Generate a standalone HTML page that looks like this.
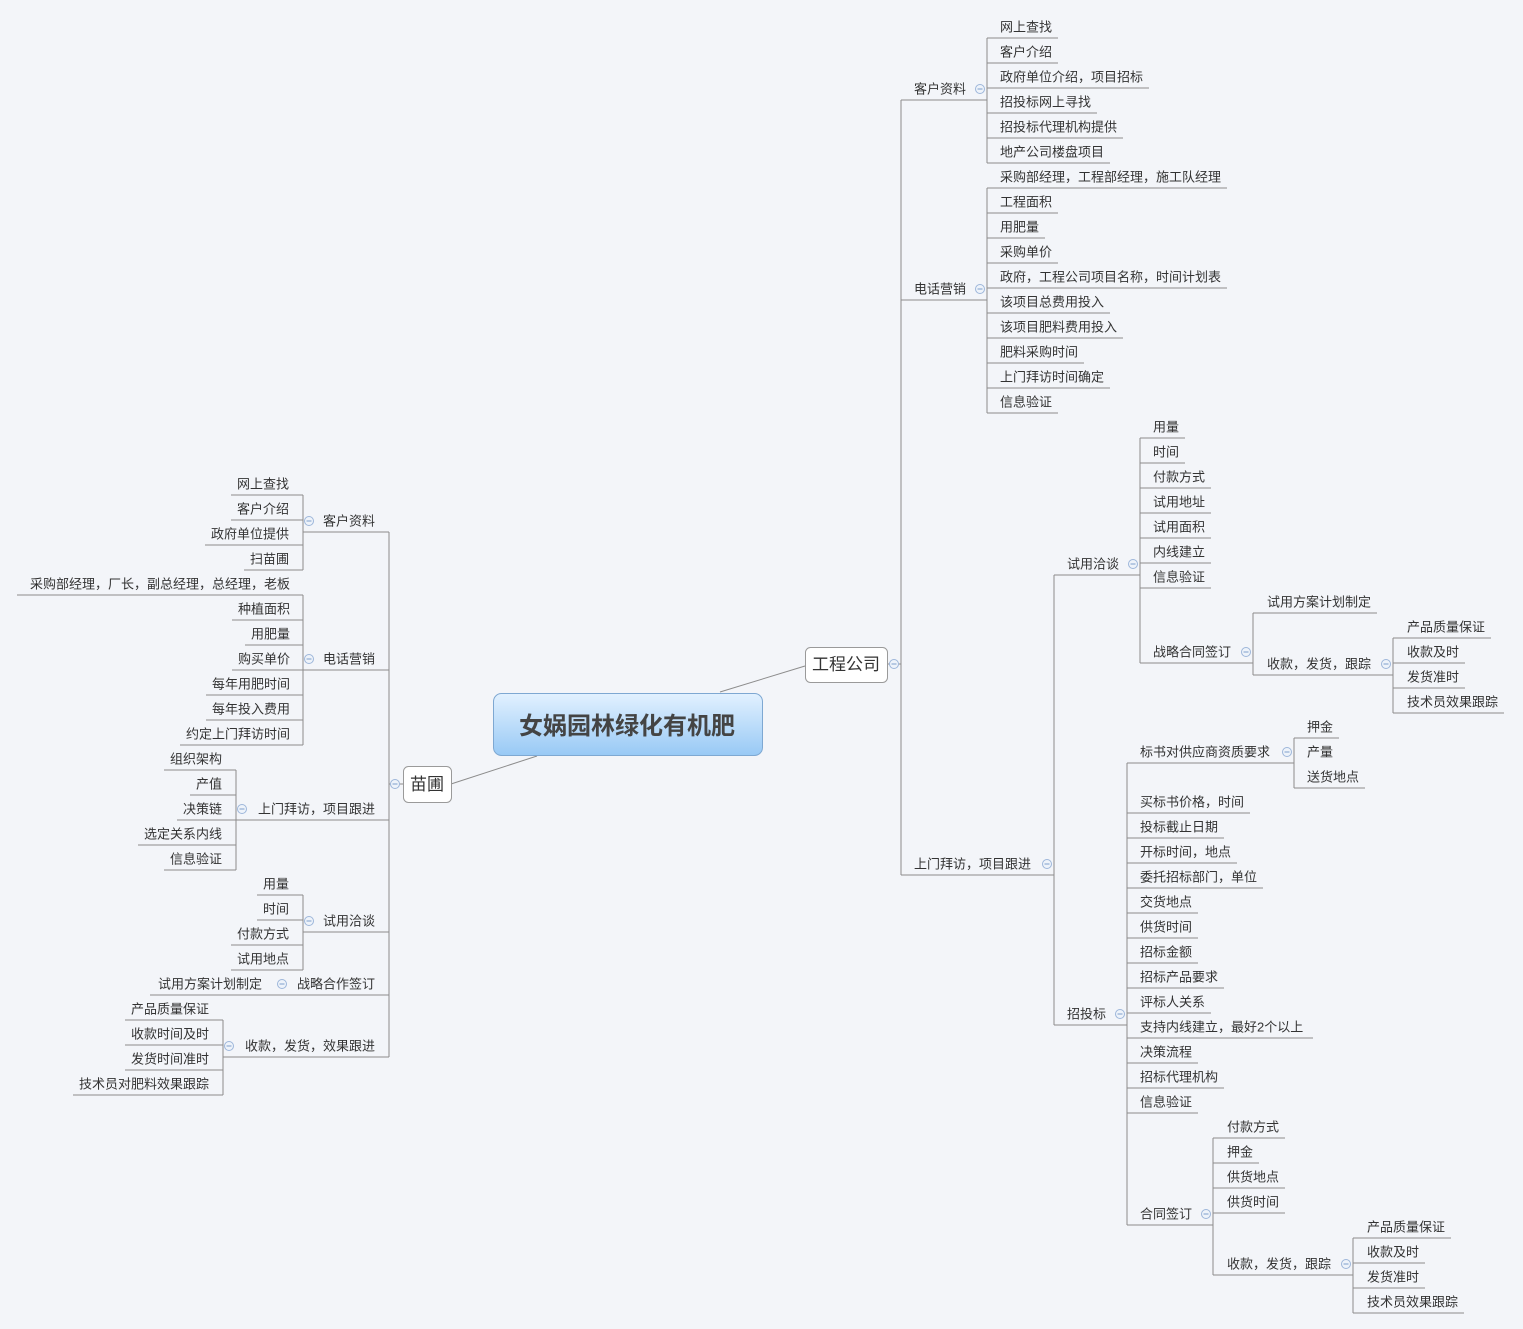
<!DOCTYPE html>
<html><head><meta charset="utf-8"><style>
html,body{margin:0;padding:0;background:#f3f5f9;}
svg{display:block;}
text{font-family:"Liberation Sans","Noto Sans CJK SC",sans-serif;font-size:13px;fill:#333;}
.l path,.l line{stroke:#8c8c8c;stroke-width:1;fill:none;}
.e text{text-anchor:end;}
</style></head><body>
<svg width="1523" height="1329" viewBox="0 0 1523 1329" xmlns="http://www.w3.org/2000/svg">
<defs><linearGradient id="g" x1="0" y1="0" x2="0" y2="1"><stop offset="0" stop-color="#e2f1ff"/><stop offset="1" stop-color="#98c9f5"/></linearGradient>
<g id="c"><circle r="4.5" fill="#eef3fa" stroke="#9db6da"/><line x1="-2.5" x2="2.5" y1="0" y2="0" stroke="#7f9fcc"/></g></defs>
<g class="l">
<!-- central connectors -->
<line x1="720" y1="692" x2="805" y2="666"/>
<line x1="537" y1="756" x2="451" y2="784"/>
<!-- right trunk -->
<path d="M887 664H901M901 100V875"/>
<!-- 客户资料 -->
<path d="M901 100H987M987 38V163"/>
<path d="M987 38H1058M987 63H1058M987 88H1149M987 113H1097M987 138H1123M987 163H1110"/>
<!-- 电话营销 -->
<path d="M901 300H987M987 188V413"/>
<path d="M987 188H1227M987 213H1058M987 238H1045M987 263H1058M987 288H1227M987 313H1110M987 338H1123M987 363H1084M987 388H1110M987 413H1058"/>
<!-- 上门拜访 -->
<path d="M901 875H1054M1054 575V1025"/>
<!-- 试用洽谈 -->
<path d="M1054 575H1140M1140 438V663"/>
<path d="M1140 438H1185M1140 463H1185M1140 488H1211M1140 513H1211M1140 538H1211M1140 563H1211M1140 588H1211M1140 663H1253"/>
<path d="M1253 613V675M1253 613H1377M1253 675H1393M1393 638V713"/>
<path d="M1393 638H1491M1393 663H1465M1393 688H1465M1393 713H1504"/>
<!-- 招投标 -->
<path d="M1054 1025H1127M1127 763V1225"/>
<path d="M1127 763H1294M1294 738V788M1294 738H1339M1294 788H1365"/>
<path d="M1127 813H1250M1127 838H1224M1127 863H1237M1127 888H1263M1127 913H1198M1127 938H1198M1127 963H1198M1127 988H1224M1127 1013H1211M1127 1038H1313M1127 1063H1198M1127 1088H1224M1127 1113H1198M1127 1225H1213"/>
<path d="M1213 1138V1275M1213 1138H1285M1213 1163H1259M1213 1188H1285M1213 1213H1285M1213 1275H1353"/>
<path d="M1353 1238V1313M1353 1238H1451M1353 1263H1425M1353 1288H1425M1353 1313H1464"/>
<!-- left trunk -->
<path d="M403 784H389M389 532V1057"/>
<path d="M389 532H303M303 495V570M303 495H231M303 520H231M303 545H205M303 570H244"/>
<path d="M389 670H303M303 595V745M303 595H17M303 620H232M303 645H245M303 670H232M303 695H206M303 720H206M303 745H180"/>
<path d="M389 820H236M236 770V870M236 770H164M236 795H190M236 820H177M236 845H138M236 870H164"/>
<path d="M389 932H303M303 895V970M303 895H257M303 920H257M303 945H231M303 970H231"/>
<path d="M389 995H150"/>
<path d="M389 1057H223M223 1020V1095M223 1020H125M223 1045H125M223 1070H125M223 1095H73"/>
</g>
<!-- nodes -->
<rect x="493.5" y="693.5" width="269" height="62" rx="8" fill="url(#g)" stroke="#7ea8d2"/>
<text x="627" y="734" text-anchor="middle" style="font-size:24px;font-weight:bold;fill:#444">女娲园林绿化有机肥</text>
<rect x="805.5" y="647.5" width="82" height="35" rx="5" fill="#fff" stroke="#9a9a9a"/>
<text x="846" y="670" text-anchor="middle" style="font-size:17px">工程公司</text>
<rect x="403.5" y="766.5" width="48" height="36" rx="5" fill="#fff" stroke="#9a9a9a"/>
<text x="427" y="790" text-anchor="middle" style="font-size:17px">苗圃</text>
<!-- collapse circles -->
<use href="#c" x="894" y="664"/><use href="#c" x="980" y="89"/><use href="#c" x="980" y="289"/><use href="#c" x="1047" y="864"/>
<use href="#c" x="1133" y="564"/><use href="#c" x="1246" y="652"/><use href="#c" x="1386" y="664"/><use href="#c" x="1120" y="1014"/>
<use href="#c" x="1287" y="752"/><use href="#c" x="1206" y="1214"/><use href="#c" x="1346" y="1264"/>
<use href="#c" x="395" y="784"/><use href="#c" x="309" y="521"/><use href="#c" x="309" y="659"/><use href="#c" x="242" y="809"/>
<use href="#c" x="309" y="921"/><use href="#c" x="282" y="984"/><use href="#c" x="229" y="1046"/>
<!-- right labels -->
<g>
<text x="914" y="93.5">客户资料</text>
<text x="1000" y="31.5">网上查找</text><text x="1000" y="56.5">客户介绍</text><text x="1000" y="81.5">政府单位介绍，项目招标</text><text x="1000" y="106.5">招投标网上寻找</text><text x="1000" y="131.5">招投标代理机构提供</text><text x="1000" y="156.5">地产公司楼盘项目</text>
<text x="914" y="293.5">电话营销</text>
<text x="1000" y="181.5">采购部经理，工程部经理，施工队经理</text><text x="1000" y="206.5">工程面积</text><text x="1000" y="231.5">用肥量</text><text x="1000" y="256.5">采购单价</text><text x="1000" y="281.5">政府，工程公司项目名称，时间计划表</text><text x="1000" y="306.5">该项目总费用投入</text><text x="1000" y="331.5">该项目肥料费用投入</text><text x="1000" y="356.5">肥料采购时间</text><text x="1000" y="381.5">上门拜访时间确定</text><text x="1000" y="406.5">信息验证</text>
<text x="914" y="868.5">上门拜访，项目跟进</text>
<text x="1067" y="568.5">试用洽谈</text>
<text x="1153" y="431.5">用量</text><text x="1153" y="456.5">时间</text><text x="1153" y="481.5">付款方式</text><text x="1153" y="506.5">试用地址</text><text x="1153" y="531.5">试用面积</text><text x="1153" y="556.5">内线建立</text><text x="1153" y="581.5">信息验证</text><text x="1153" y="656.5">战略合同签订</text>
<text x="1267" y="606.5">试用方案计划制定</text><text x="1267" y="668.5">收款，发货，跟踪</text>
<text x="1407" y="631.5">产品质量保证</text><text x="1407" y="656.5">收款及时</text><text x="1407" y="681.5">发货准时</text><text x="1407" y="706.5">技术员效果跟踪</text>
<text x="1067" y="1018.5">招投标</text>
<text x="1140" y="756.5">标书对供应商资质要求</text>
<text x="1307" y="731.5">押金</text><text x="1307" y="756.5">产量</text><text x="1307" y="781.5">送货地点</text>
<text x="1140" y="806.5">买标书价格，时间</text><text x="1140" y="831.5">投标截止日期</text><text x="1140" y="856.5">开标时间，地点</text><text x="1140" y="881.5">委托招标部门，单位</text><text x="1140" y="906.5">交货地点</text><text x="1140" y="931.5">供货时间</text><text x="1140" y="956.5">招标金额</text><text x="1140" y="981.5">招标产品要求</text><text x="1140" y="1006.5">评标人关系</text><text x="1140" y="1031.5">支持内线建立，最好2个以上</text><text x="1140" y="1056.5">决策流程</text><text x="1140" y="1081.5">招标代理机构</text><text x="1140" y="1106.5">信息验证</text><text x="1140" y="1218.5">合同签订</text>
<text x="1227" y="1131.5">付款方式</text><text x="1227" y="1156.5">押金</text><text x="1227" y="1181.5">供货地点</text><text x="1227" y="1206.5">供货时间</text><text x="1227" y="1268.5">收款，发货，跟踪</text>
<text x="1367" y="1231.5">产品质量保证</text><text x="1367" y="1256.5">收款及时</text><text x="1367" y="1281.5">发货准时</text><text x="1367" y="1306.5">技术员效果跟踪</text>
</g>
<!-- left labels -->
<g class="e">
<text x="375" y="525.5">客户资料</text>
<text x="289" y="488.5">网上查找</text><text x="289" y="513.5">客户介绍</text><text x="289" y="538.5">政府单位提供</text><text x="289" y="563.5">扫苗圃</text>
<text x="375" y="663.5">电话营销</text>
<text x="290" y="588.5">采购部经理，厂长，副总经理，总经理，老板</text><text x="290" y="613.5">种植面积</text><text x="290" y="638.5">用肥量</text><text x="290" y="663.5">购买单价</text><text x="290" y="688.5">每年用肥时间</text><text x="290" y="713.5">每年投入费用</text><text x="290" y="738.5">约定上门拜访时间</text>
<text x="375" y="813.5">上门拜访，项目跟进</text>
<text x="222" y="763.5">组织架构</text><text x="222" y="788.5">产值</text><text x="222" y="813.5">决策链</text><text x="222" y="838.5">选定关系内线</text><text x="222" y="863.5">信息验证</text>
<text x="375" y="925.5">试用洽谈</text>
<text x="289" y="888.5">用量</text><text x="289" y="913.5">时间</text><text x="289" y="938.5">付款方式</text><text x="289" y="963.5">试用地点</text>
<text x="375" y="988.5">战略合作签订</text><text x="262" y="988.5">试用方案计划制定</text>
<text x="375" y="1050.5">收款，发货，效果跟进</text>
<text x="209" y="1013.5">产品质量保证</text><text x="209" y="1038.5">收款时间及时</text><text x="209" y="1063.5">发货时间准时</text><text x="209" y="1088.5">技术员对肥料效果跟踪</text>
</g>
</svg>
</body></html>
